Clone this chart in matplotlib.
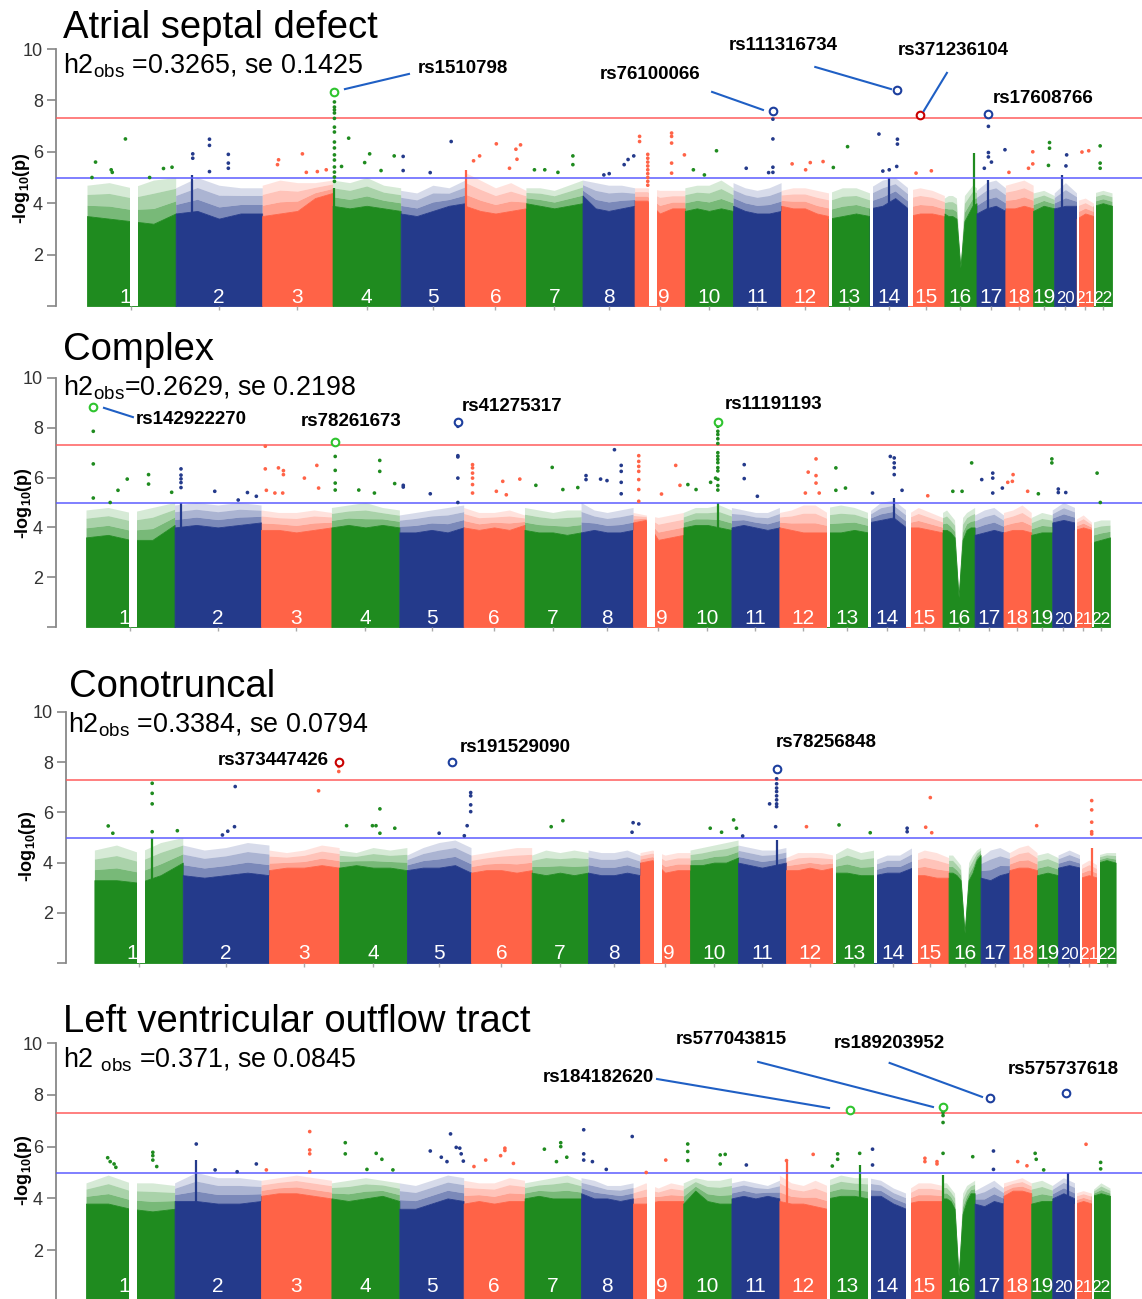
import numpy as np
import matplotlib
matplotlib.use("Agg")
import matplotlib.pyplot as plt

plt.rcParams["font.family"] = ["Liberation Sans", "DejaVu Sans"]
plt.rcParams["mathtext.fontset"] = "custom"
plt.rcParams["mathtext.rm"] = "Liberation Sans"
plt.rcParams["mathtext.bf"] = "Liberation Sans:bold"

# chromosome sizes in Mb (hg19)
chrom_len = [249.25, 243.20, 198.02, 191.15, 180.92, 171.12, 159.14, 146.36,
             141.21, 135.53, 135.01, 133.85, 115.17, 107.35, 102.53, 90.35,
             81.20, 78.08, 59.13, 63.03, 48.13, 51.30]
chrom_names = [str(i) for i in range(1, 23)]
# stretches with no SNPs: (chrom, from Mb, to Mb)
empty_regions = [(1, 121, 143), (9, 40, 62), (13, 0, 8), (14, 0, 8),
                 (15, 0, 15), (21, 0, 6), (22, 0, 6)]

# ---------------- Atrial septal defect ----------------
asd_solid = [
    [3.5, 3.4, 3.3, 3.2, 3.6], [3.6, 3.7, 3.4, 3.6, 3.6], [3.5, 3.6, 3.7, 4.2, 4.4],
    [3.9, 3.8, 3.9, 3.8, 3.7], [3.6, 3.5, 3.7, 3.9, 4.0], [3.9, 3.7, 3.6, 3.7, 3.8],
    [4.0, 3.9, 3.8, 3.9, 4.0], [4.3, 3.8, 3.7, 3.8, 3.9], [4.1, 4.1, 3.6, 3.8, 3.8],
    [3.7, 3.8, 3.7, 3.8, 3.7], [3.9, 3.7, 3.6, 3.6, 3.7], [3.9, 3.8, 3.8, 3.6, 3.5],
    [3.4, 3.5, 3.6, 3.5], [3.8, 3.9, 4.2, 3.8], [3.5, 3.6, 3.6, 3.5],
    [3.6, 3.5, 3.5, 3.4, 1.5, 3.3, 3.6, 3.9, 4.0],
    [3.6, 3.8, 3.9, 3.7], [3.8, 3.8, 3.9, 3.8], [3.7, 3.9, 3.8], [3.8, 3.9, 3.9],
    [3.4, 3.6, 3.5], [3.9, 4.0, 3.9]]
asd_speck = [
    [4.7, 4.8, 4.6, 4.9, 5.0], [4.6, 5.0, 4.7, 4.6, 4.6], [4.7, 4.9, 4.8, 4.8, 4.9],
    [4.9, 4.8, 5.0, 4.7, 4.6], [4.5, 4.4, 4.7, 4.6, 4.9], [5.2, 4.9, 4.6, 4.8, 4.5],
    [4.6, 4.6, 4.5, 4.7, 4.9], [4.9, 4.8, 4.7, 4.7, 4.6], [4.6, 4.6, 4.5, 4.5, 4.5],
    [4.6, 4.7, 4.7, 4.9, 4.6], [4.8, 4.6, 4.5, 4.6, 4.8], [4.5, 4.6, 4.6, 4.5, 4.4],
    [4.4, 4.6, 4.6, 4.4], [4.6, 4.9, 5.0, 4.6], [4.5, 4.6, 4.5, 4.3],
    [4.2, 4.3, 4.3, 4.2, 1.5, 4.3, 4.5, 4.7, 4.6],
    [4.5, 4.8, 4.9, 4.6], [4.7, 4.8, 4.9, 4.7], [4.4, 4.5, 4.3], [4.4, 4.8, 4.4],
    [4.1, 4.2, 4.0], [4.4, 4.5, 4.4]]
asd_points = [
    (1, 108, 6.5), (1, 24, 5.6), (1, 68, 5.3), (1, 71, 5.2), (1, 14, 5.0), (1, 215, 5.35),
    (1, 239, 5.4), (1, 176, 5.0),
    (2, 95, 6.49), (2, 95, 6.25), (2, 48, 5.92), (2, 48, 5.75), (2, 148, 5.9), (2, 148, 5.56),
    (2, 148, 5.36), (2, 95, 5.23),
    (3, 113, 5.92), (3, 46, 5.69), (3, 43, 5.5), (3, 180, 5.3), (3, 155, 5.23), (3, 124, 5.2),
    (4, 45, 6.53), (4, 104, 5.92), (4, 90, 5.58), (4, 25, 5.43), (4, 173, 5.84), (4, 136, 5.27),
    (5, 142, 6.4), (5, 7, 5.82), (5, 7, 5.27), (5, 83, 5.19),
    (6, 88, 6.31), (6, 156, 6.27), (6, 143, 6.1), (6, 24, 5.65), (6, 41, 5.84), (6, 146, 5.71),
    (6, 125, 5.36),
    (7, 132, 5.84), (7, 132, 5.5), (7, 24, 5.3), (7, 53, 5.3), (7, 90, 5.2),
    (8, 144, 5.84), (8, 128, 5.7), (8, 117, 5.5), (8, 60, 5.1), (8, 75, 5.15),
    (9, 14, 6.6), (9, 14, 6.4), (9, 140, 5.88),
    (10, 89, 6.04), (10, 24, 5.3), (10, 55, 5.1),
    (11, 37, 5.36), (11, 100, 5.19),
    (12, 31, 5.53), (12, 82, 5.58), (12, 118, 5.62), (12, 69, 5.3),
    (13, 53, 6.2), (13, 13, 5.39),
    (14, 26, 6.69), (14, 78, 6.49), (14, 78, 6.3), (14, 76, 5.43), (14, 55, 5.3), (14, 37, 5.25),
    (15, 23, 5.17), (15, 66, 5.26),
    (17, 22, 5.36), (17, 42, 5.6), (17, 80, 6.08),
    (18, 77, 6.0), (18, 77, 5.53), (18, 65, 5.36), (18, 10, 5.2),
    (19, 46, 6.36), (19, 46, 6.14), (19, 43, 5.47),
    (20, 35, 5.88), (20, 33, 5.45),
    (21, 15, 5.99), (21, 34, 6.04),
    (22, 18, 6.23), (22, 18, 5.56), (22, 18, 5.36)]
asd_stacks = [
    (4, 5, [7.94, 7.74, 7.63, 7.51, 7.3, 6.96, 6.77, 6.38, 6.15, 5.88, 5.68, 5.41, 5.21, 5.02, 4.85]),
    (11, 112, [7.27, 6.5, 5.4, 5.2]),
    (17, 33.5, [6.99, 5.97, 5.8]),
    (9, 104, [6.73, 6.6, 6.34, 5.56, 5.17]),
    (9, 37, [5.9, 5.75, 5.6, 5.45, 5.3, 5.15, 5.0, 4.85, 4.7])]
asd_columns = [(2, 45, 5.1), (4, 5, 4.6), (6, 3, 5.3), (14, 55, 5.0),
               (16, 82, 5.95), (17, 33.5, 4.9), (20, 21, 5.1)]
asd_leads = [(4, 5, 8.33, "rs1510798"), (11, 112, 7.57, "rs76100066"),
             (14, 76.7, 8.39, "rs111316734"), (15, 34, 7.43, "rs371236104"),
             (17, 33.5, 7.47, "rs17608766")]
asd_layout = [(930, 9.26, "left", (725, 8.44, 905, 9.03)),
              (1582, 8.99, "center", (1757, 8.33, 1900, 7.63)),
              (1956, 10.12, "center", (2047, 9.3, 2260, 8.44)),
              (2434, 9.96, "center", (2417, 9.07, 2352, 7.59)),
              (2687, 8.09, "center", None)]

# ---------------- Complex ----------------
cpx_solid = [
    [3.6, 3.7, 3.5, 3.5, 4.1], [4.0, 4.1, 4.0, 4.1, 4.2], [3.9, 3.9, 3.8, 3.9, 4.0],
    [4.0, 4.1, 4.0, 4.1, 4.0], [3.8, 3.8, 3.9, 3.8, 4.0], [4.0, 3.9, 4.0, 3.9, 4.1],
    [3.9, 3.8, 3.8, 3.7, 3.8], [3.8, 3.9, 3.8, 3.8, 3.9], [4.2, 4.3, 3.5, 3.6, 3.7],
    [4.0, 4.1, 4.1, 4.0, 3.9], [4.0, 4.1, 4.0, 3.9, 4.0], [4.0, 3.9, 3.8, 3.8, 3.8],
    [3.8, 3.8, 3.9, 3.8], [4.2, 4.3, 4.4, 4.0], [4.0, 4.0, 3.9, 3.8],
    [3.9, 3.9, 3.8, 3.6, 1.2, 3.5, 3.9, 4.0, 4.0],
    [3.7, 3.8, 3.9, 3.8], [3.8, 3.9, 3.9, 3.8], [3.7, 3.8, 3.8], [4.2, 4.3, 4.2],
    [3.9, 4.0, 3.9], [3.4, 3.5, 3.6]]
cpx_speck = [
    [4.7, 4.8, 4.6, 4.8, 5.0], [4.9, 5.0, 4.9, 5.0, 4.9], [4.7, 4.6, 4.6, 4.7, 4.6],
    [4.8, 4.9, 5.0, 4.8, 4.7], [4.5, 4.6, 4.7, 4.8, 4.9], [4.8, 4.6, 4.6, 4.7, 4.5],
    [4.8, 4.7, 4.6, 4.7, 4.7], [5.0, 4.7, 4.6, 4.7, 4.8], [4.6, 4.5, 4.4, 4.5, 4.6],
    [4.6, 4.8, 4.8, 4.9, 4.7], [4.8, 4.7, 4.6, 4.6, 4.8], [4.6, 4.7, 4.9, 4.9, 4.6],
    [4.8, 4.9, 4.8, 4.6], [4.6, 5.0, 5.1, 4.7], [4.5, 4.8, 4.6, 4.4],
    [4.6, 4.7, 4.5, 4.3, 1.2, 4.4, 4.6, 4.7, 4.8],
    [4.5, 4.7, 4.8, 4.5], [4.6, 4.7, 4.9, 4.6], [4.4, 4.6, 4.5], [4.7, 5.0, 4.8],
    [4.3, 4.5, 4.2], [4.2, 4.3, 4.3]]
cpx_points = [
    (1, 90, 5.49), (1, 116, 5.94), (1, 176, 6.12), (1, 176, 5.74), (1, 241, 5.41), (1, 68, 5.0),
    (2, 113, 5.45), (2, 205, 5.4), (2, 179, 5.1), (2, 230, 5.25),
    (3, 12, 7.26), (3, 12, 6.35), (3, 49, 6.39), (3, 63, 6.28), (3, 63, 6.12), (3, 157, 6.49),
    (3, 122, 5.98), (3, 15, 5.49), (3, 39, 5.38), (3, 61, 5.38), (3, 162, 5.58),
    (4, 136, 6.69), (4, 136, 6.25), (4, 77, 5.5), (4, 178, 5.76), (4, 121, 5.38),
    (5, 11, 5.69), (5, 11, 5.62), (5, 87, 5.35),
    (6, 110, 5.85), (6, 92, 5.45), (6, 120, 5.31), (6, 158, 5.94),
    (7, 78, 6.41), (7, 32, 5.69), (7, 108, 5.52), (7, 150, 5.6),
    (8, 94, 7.12), (8, 14, 6.08), (8, 14, 5.92), (8, 55, 5.94), (8, 73, 5.88),
    (9, 120, 6.49), (9, 132, 5.69), (9, 80, 5.34),
    (10, 91, 5.98), (10, 77, 5.81), (10, 13, 5.72), (10, 36, 5.52),
    (11, 36, 6.52), (11, 36, 5.96), (11, 73, 5.25),
    (12, 103, 6.75), (12, 81, 6.22), (12, 103, 6.08), (12, 103, 5.78), (12, 112, 5.38), (12, 73, 5.38),
    (13, 25, 6.39), (13, 52, 5.58), (13, 25, 5.49),
    (14, 63, 6.85), (14, 96, 5.49), (14, 13, 5.38),
    (15, 61, 5.27),
    (16, 82, 6.59), (16, 29, 5.45), (16, 55, 5.45),
    (17, 20, 5.92), (17, 78, 5.58),
    (18, 27, 6.12), (18, 12, 5.81), (18, 25, 5.85), (18, 68, 5.45),
    (19, 58, 6.75), (19, 58, 6.59), (19, 20, 5.35),
    (20, 17, 5.54), (20, 17, 5.4), (20, 38, 5.4),
    (22, 15, 6.18), (22, 24, 5.0)]
cpx_stacks = [
    (1, 20.5, [7.86, 6.55, 5.18]),
    (2, 18, [6.35, 6.1, 5.95, 5.8, 5.6]),
    (4, 10.7, [6.85, 6.29, 5.78, 5.5]),
    (5, 164.6, [8.06, 6.88, 6.83, 5.98, 5.0]),
    (6, 25, [6.52, 6.39, 6.18, 5.98, 5.72, 5.38]),
    (8, 113, [6.49, 6.25, 5.81, 5.35]),
    (9, 16, [6.88, 6.65, 6.45, 6.25, 5.92, 5.52, 5.05]),
    (10, 97.3, [8.06, 7.86, 7.73, 7.56, 7.37, 7.0, 6.86, 6.73, 6.6, 6.4, 6.27, 5.93, 5.68, 5.5]),
    (14, 74, [6.79, 6.59, 6.4, 6.12]),
    (17, 51, [6.18, 5.98, 5.38])]
cpx_columns = [(2, 18, 5.0), (10, 97.3, 5.0), (14, 74, 5.2)]
cpx_leads = [(1, 20.5, 8.83, "rs142922270"), (4, 10.7, 7.42, "rs78261673"),
             (5, 164.6, 8.23, "rs41275317"), (10, 97.3, 8.23, "rs11191193")]
cpx_layout = [(140.5, 8.35, "left", (50.6, 8.8, 132, 8.43)),
              (744.8, 8.27, "center", None),
              (1056.8, 8.84, "left", None),
              (1796, 8.92, "left", None)]

# ---------------- Conotruncal ----------------
ct_solid = [
    [3.3, 3.3, 3.2, 3.5, 4.0], [3.5, 3.4, 3.5, 3.6, 3.5], [3.7, 3.8, 3.8, 3.9, 3.8],
    [3.8, 3.9, 3.8, 3.8, 3.7], [3.7, 3.8, 3.8, 3.9, 3.6], [3.6, 3.7, 3.7, 3.6, 3.7],
    [3.6, 3.5, 3.6, 3.5, 3.6], [3.6, 3.5, 3.5, 3.6, 3.5], [4.0, 4.1, 3.6, 3.7, 3.7],
    [3.9, 3.9, 4.0, 4.0, 4.2], [4.0, 3.9, 3.8, 3.9, 4.0], [3.7, 3.7, 3.8, 3.7, 3.8],
    [3.6, 3.6, 3.5, 3.5], [3.5, 3.6, 3.6, 3.8], [3.5, 3.5, 3.4, 3.4],
    [3.6, 3.6, 3.5, 3.3, 1.2, 3.3, 3.6, 4.1, 4.3],
    [3.4, 3.3, 3.5, 3.6], [3.7, 3.8, 3.8, 3.7], [3.5, 3.6, 3.5], [3.8, 3.9, 3.8],
    [3.4, 3.5, 3.4], [4.0, 4.1, 4.0]]
ct_speck = [
    [4.5, 4.7, 4.4, 4.8, 5.0], [4.7, 4.5, 4.6, 4.8, 4.7], [4.5, 4.4, 4.5, 4.7, 4.6],
    [4.5, 4.4, 4.6, 4.5, 4.6], [4.3, 4.6, 4.8, 4.9, 4.6], [4.3, 4.4, 4.5, 4.6, 4.6],
    [4.3, 4.5, 4.4, 4.5, 4.4], [4.5, 4.4, 4.4, 4.5, 4.3], [4.4, 4.5, 4.3, 4.4, 4.4],
    [4.5, 4.6, 4.7, 4.8, 4.9], [4.7, 4.6, 4.5, 4.5, 4.6], [4.2, 4.4, 4.4, 4.4, 4.3],
    [4.3, 4.6, 4.4, 4.5], [4.1, 4.3, 4.3, 4.6], [4.3, 4.5, 4.4, 4.2],
    [4.3, 4.3, 4.1, 3.9, 1.2, 4.0, 4.3, 4.5, 4.6],
    [4.2, 4.5, 4.6, 4.4], [4.4, 4.6, 4.7, 4.4], [4.3, 4.4, 4.2], [4.3, 4.5, 4.3],
    [3.9, 4.1, 3.9], [4.3, 4.4, 4.4]]
ct_points = [
    (1, 39, 5.46), (1, 52, 5.17), (1, 234, 5.27),
    (2, 148, 7.03), (2, 146, 5.43), (2, 112, 5.1), (2, 127, 5.25),
    (3, 140, 6.86),
    (4, 115, 6.14), (4, 115, 5.17), (4, 21, 5.47), (4, 94, 5.47), (4, 104, 5.47), (4, 157, 5.37),
    (5, 170, 5.47), (5, 162, 5.07), (5, 91, 5.17),
    (7, 88, 5.67), (7, 55, 5.43),
    (8, 127, 5.59), (8, 143, 5.54), (8, 124, 5.21),
    (10, 123, 5.7), (10, 57, 5.37), (10, 89, 5.21), (10, 131, 5.37),
    (11, 89, 6.34), (11, 106, 5.43), (11, 13, 5.06),
    (12, 58, 5.43),
    (13, 16, 5.5), (13, 104, 5.19),
    (14, 93, 5.37), (14, 93, 5.23),
    (15, 51, 6.59), (15, 38, 5.41), (15, 55, 5.19),
    (18, 77, 5.47)]
ct_stacks = [
    (1, 163, [7.16, 6.76, 6.34, 5.23]),
    (3, 197, [7.83, 7.63]),
    (5, 180, [6.79, 6.66, 6.3, 6.03]),
    (11, 108.8, [7.34, 7.14, 6.97, 6.83, 6.66, 6.5, 6.34, 6.23]),
    (21, 32, [6.47, 6.1, 5.61, 5.23, 5.14])]
ct_columns = [(1, 163, 5.0), (11, 108.8, 4.9), (21, 32, 4.6)]
ct_leads = [(3, 197, 7.99, "rs373447426"), (5, 127, 7.99, "rs191529090"),
            (11, 108.8, 7.73, "rs78256848")]
ct_layout = [(661.8, 8.05, "right", None),
             (1031, 8.6, "left", None),
             (1922.7, 8.8, "left", None)]

# ---------------- Left ventricular outflow tract ----------------
lv_solid = [
    [3.8, 3.8, 3.6, 3.5, 3.6], [3.9, 3.9, 3.8, 3.8, 3.9], [4.1, 4.2, 4.2, 4.1, 4.0],
    [4.0, 3.9, 4.0, 4.1, 3.9], [3.6, 3.6, 3.8, 4.0, 3.9], [3.8, 3.9, 3.8, 3.9, 3.9],
    [4.0, 4.1, 4.0, 4.0, 4.0], [4.2, 4.0, 4.0, 3.9, 4.0], [3.8, 3.8, 3.9, 3.9, 3.9],
    [3.8, 4.3, 3.9, 3.8, 3.8], [4.0, 4.1, 4.0, 4.1, 4.0], [3.9, 3.8, 3.8, 3.7, 3.6],
    [4.0, 4.1, 4.1, 4.0], [4.1, 4.1, 3.8, 3.6], [3.8, 3.9, 3.9, 3.9],
    [4.0, 4.0, 3.9, 3.6, 1.0, 3.4, 3.9, 4.2, 4.2],
    [3.8, 3.7, 3.9, 3.8], [4.1, 4.3, 4.3, 4.2], [3.8, 3.9, 3.9], [4.0, 4.2, 4.0],
    [3.8, 3.9, 3.8], [4.1, 4.2, 4.1]]
lv_speck = [
    [4.6, 4.9, 4.6, 4.6, 4.5], [4.6, 5.0, 4.8, 4.8, 4.7], [4.7, 4.8, 4.9, 4.8, 4.7],
    [4.6, 4.7, 4.8, 4.7, 4.6], [4.6, 4.5, 4.7, 4.9, 4.8], [4.7, 4.6, 4.6, 4.8, 4.7],
    [4.6, 4.7, 4.8, 4.9, 4.7], [4.8, 4.7, 4.5, 4.5, 4.6], [4.4, 4.6, 4.4, 4.6, 4.5],
    [4.6, 4.8, 4.7, 4.7, 4.8], [4.6, 4.7, 4.6, 4.5, 4.7], [4.9, 4.6, 4.5, 4.7, 4.5],
    [4.7, 4.9, 4.8, 4.8], [4.8, 4.7, 4.4, 4.2], [4.3, 4.6, 4.6, 4.5],
    [4.6, 4.6, 4.4, 4.2, 1.0, 4.2, 4.5, 4.6, 4.7],
    [4.3, 4.5, 4.7, 4.4], [4.6, 4.7, 4.8, 4.6], [4.6, 4.7, 4.5], [4.5, 4.8, 4.6],
    [4.2, 4.3, 4.2], [4.3, 4.6, 4.4]]
lv_points = [
    (1, 61, 5.57), (1, 68, 5.42), (1, 79, 5.33), (1, 84, 5.2), (1, 199, 5.23),
    (2, 61, 6.1), (2, 114, 5.1), (2, 176, 5.03), (2, 230, 5.33),
    (3, 15, 5.1),
    (4, 126, 5.74), (4, 142, 5.51), (4, 100, 5.12), (4, 173, 5.1),
    (5, 144, 6.49), (5, 160, 5.97), (5, 170, 5.94), (5, 174, 5.72), (5, 87, 5.83), (5, 118, 5.59),
    (5, 134, 5.42), (5, 180, 5.44),
    (6, 29, 5.23), (6, 62, 5.48), (6, 104, 5.65), (6, 116, 5.94), (6, 116, 5.85), (6, 140, 5.35),
    (7, 56, 5.9), (7, 90, 5.42), (7, 119, 5.59),
    (8, 32, 5.42), (8, 71, 5.12), (8, 144, 6.39),
    (9, 37, 5.0), (9, 92, 5.48),
    (10, 104, 5.68), (10, 104, 5.33), (10, 118, 5.7),
    (11, 42, 5.29),
    (12, 95, 5.7), (12, 20, 5.46),
    (13, 15, 5.25), (13, 92, 5.74),
    (15, 87, 5.33), (15, 87, 5.42),
    (16, 85, 5.61),
    (18, 40, 5.42), (18, 66, 5.26),
    (19, 11, 5.74), (19, 14, 5.51), (19, 35, 5.1),
    (21, 32, 6.09)]
lv_stacks = [
    (1, 188, [5.78, 5.65, 5.48]),
    (3, 137, [6.58, 5.87, 5.72, 5.03]),
    (4, 39, [6.15, 5.72]),
    (7, 102, [6.15, 6.0]),
    (8, 7.5, [6.65, 5.72, 5.48]),
    (10, 12.6, [6.1, 5.81, 5.46]),
    (13, 30, [5.72, 5.51]),
    (14, 13, [5.9, 5.29]),
    (15, 53, [5.55, 5.42]),
    (16, 1.5, [7.32, 7.2, 6.93, 5.74]),
    (17, 53, [5.83, 5.12]),
    (22, 25, [5.39, 5.14])]
lv_columns = [(2, 61, 5.5), (12, 20, 5.4), (13, 92, 5.3), (20, 44, 5.0), (16, 1.5, 4.9)]
lv_leads = [(13, 63.8, 7.41, "rs184182620"), (16, 1.5, 7.52, "rs577043815"),
            (17, 43.4, 7.87, "rs189203952"), (20, 37.7, 8.07, "rs575737618")]
lv_layout = [(1598, 8.65, "right", (1606.6, 8.61, 2090.6, 7.49)),
             (1815, 10.12, "center", (1891, 9.27, 2383, 7.53)),
             (2259, 10.0, "center", (2261, 9.23, 2521, 7.92)),
             (2749, 8.96, "center", None)]

# panel placement, in pixels of the 1142x1299 picture
panels = [
    dict(title="Atrial septal defect", sub=r"h2$_{\mathrm{obs}}$ =0.3265, se 0.1425",
         axis_x=56, x0=87, x1=1112, y10=49, y0=306, title_px=(63, 38), sub_px=(63, 73),
         ylab_px=(22, 188), chrom_y=0.12),
    dict(title="Complex", sub=r"h2$_{\mathrm{obs}}$=0.2629, se 0.2198",
         axis_x=56, x0=86, x1=1110, y10=378, y0=627, title_px=(63, 360), sub_px=(63, 396),
         ylab_px=(24, 503), chrom_y=0.12),
    dict(title="Conotruncal", sub=r"h2$_{\mathrm{obs}}$ =0.3384, se 0.0794",
         axis_x=66, x0=94.4, x1=1115.6, y10=712, y0=963, title_px=(69, 697), sub_px=(68, 732),
         ylab_px=(28, 846), chrom_y=0.17),
    dict(title="Left ventricular outflow tract", sub=r"h2 $_{\mathrm{obs}}$ =0.371, se 0.0845",
         axis_x=56, x0=86, x1=1110, y10=1043, y0=1302, title_px=(63, 1032), sub_px=(63, 1067),
         ylab_px=(24, 1170), chrom_y=0.38),
]
datasets = [
    (asd_solid, asd_speck, asd_points, asd_stacks, asd_columns, asd_leads, asd_layout),
    (cpx_solid, cpx_speck, cpx_points, cpx_stacks, cpx_columns, cpx_leads, cpx_layout),
    (ct_solid, ct_speck, ct_points, ct_stacks, ct_columns, ct_leads, ct_layout),
    (lv_solid, lv_speck, lv_points, lv_stacks, lv_columns, lv_leads, lv_layout),
]

COLORS = ["#1f8b1f", "#243a8b", "#ff6347"]
RINGS = ["#2fc42f", "#1d3f9e", "#c80000"]
LINK = "#1f5fc4"
label_shift = {1: -17, 9: 11}

starts = np.concatenate([[0.0], np.cumsum(chrom_len)[:-1]])
total = float(np.sum(chrom_len))
mids = starts + np.array(chrom_len) / 2

W, H = 1142, 1299
fig = plt.figure(figsize=(W / 100, H / 100), dpi=100)

for g, (solid, speck, points, stacks, columns, leads, layout) in zip(panels, datasets):
    scale = (g["x1"] - g["x0"]) / total
    ax = fig.add_axes([g["axis_x"] / W, 1 - g["y0"] / H,
                       (W - g["axis_x"]) / W, (g["y0"] - g["y10"]) / H])
    ax.set_xlim((g["axis_x"] - g["x0"]) / scale, (W - g["x0"]) / scale)
    ax.set_ylim(0, 10)

    # dense bulk of SNPs: solid core, then a thinning band of scattered hits
    for c in range(22):
        col = COLORS[c % 3]
        kx = starts[c] + chrom_len[c] * np.linspace(0, 1, len(solid[c]))
        lo = np.array(solid[c])
        hi = np.array(speck[c])
        ax.fill_between(kx, 0, lo, color=col, lw=0.6, zorder=1)
        steps = [(0.0, 0.35, 0.6), (0.35, 0.7, 0.38), (0.7, 1.0, 0.18)]
        for f0, f1, a in steps:
            ax.fill_between(kx, lo + f0 * (hi - lo), lo + f1 * (hi - lo),
                            color=col, alpha=a, lw=0, zorder=1.1)
    for ch, pos, top in columns:
        ax.vlines(starts[ch - 1] + pos, 0, top, color=COLORS[(ch - 1) % 3], lw=1.6, zorder=1.5)
    for ch, a, b in empty_regions:
        ax.axvspan(starts[ch - 1] + a, starts[ch - 1] + b, color="white", lw=0, zorder=2)

    ax.axhline(7.3, color="#ff5c5c", lw=1.1, zorder=3)
    ax.axhline(5.0, color="#5c5cff", lw=1.1, zorder=3)

    # individual SNPs
    pts = list(points) + [(ch, pos, v) for ch, pos, vals in stacks for v in vals]
    ax.scatter([starts[ch - 1] + pos for ch, pos, v in pts], [v for ch, pos, v in pts],
               s=7, c=[COLORS[(ch - 1) % 3] for ch, pos, v in pts], linewidths=0, zorder=4)

    # lead SNPs with labels
    for (ch, pos, v, name), (tx, ty, ha, link) in zip(leads, layout):
        ax.scatter([starts[ch - 1] + pos], [v], s=30, facecolors="white",
                   edgecolors=RINGS[(ch - 1) % 3], linewidths=1.5, zorder=5)
        ax.text(tx, ty, name, ha=ha, va="center", fontsize=13.5, fontweight="bold",
                clip_on=False, zorder=7)
        if link is not None:
            ax.plot([link[0], link[2]], [link[1], link[3]], color=LINK, lw=1.5,
                    clip_on=False, zorder=6)

    # chromosome numbers
    for c in range(22):
        size = 15 if c < 19 else (12 if c == 19 else 12.5)
        ax.text(mids[c] + label_shift.get(c + 1, 0), g["chrom_y"], chrom_names[c],
                color="white", fontsize=size, ha="center", va="baseline", zorder=6)

    for side in ["top", "right", "bottom"]:
        ax.spines[side].set_visible(False)
    ax.spines["left"].set_color("#888888")
    ax.spines["left"].set_linewidth(1.3)
    ax.set_yticks([0, 2, 4, 6, 8, 10])
    ax.set_yticklabels(["", "2", "4", "6", "8", "10"])
    ax.tick_params(axis="y", length=6.5, width=1.2, color="#888888", labelcolor="#333333",
                   labelsize=13, pad=3)
    ax.set_xticks(mids)
    ax.set_xticklabels([])
    ax.tick_params(axis="x", length=3, width=1, color="#aaaaaa")

    fig.text(g["title_px"][0] / W, 1 - g["title_px"][1] / H, g["title"],
             fontsize=27.5, ha="left", va="baseline")
    fig.text(g["sub_px"][0] / W, 1 - g["sub_px"][1] / H, g["sub"],
             fontsize=19.4, ha="left", va="baseline")
    fig.text(g["ylab_px"][0] / W, 1 - g["ylab_px"][1] / H, r"-log$_{\mathbf{10}}$(p)",
             rotation=90, ha="center", va="center", fontsize=13, fontweight="bold")

fig.savefig("out.png", dpi=100)
